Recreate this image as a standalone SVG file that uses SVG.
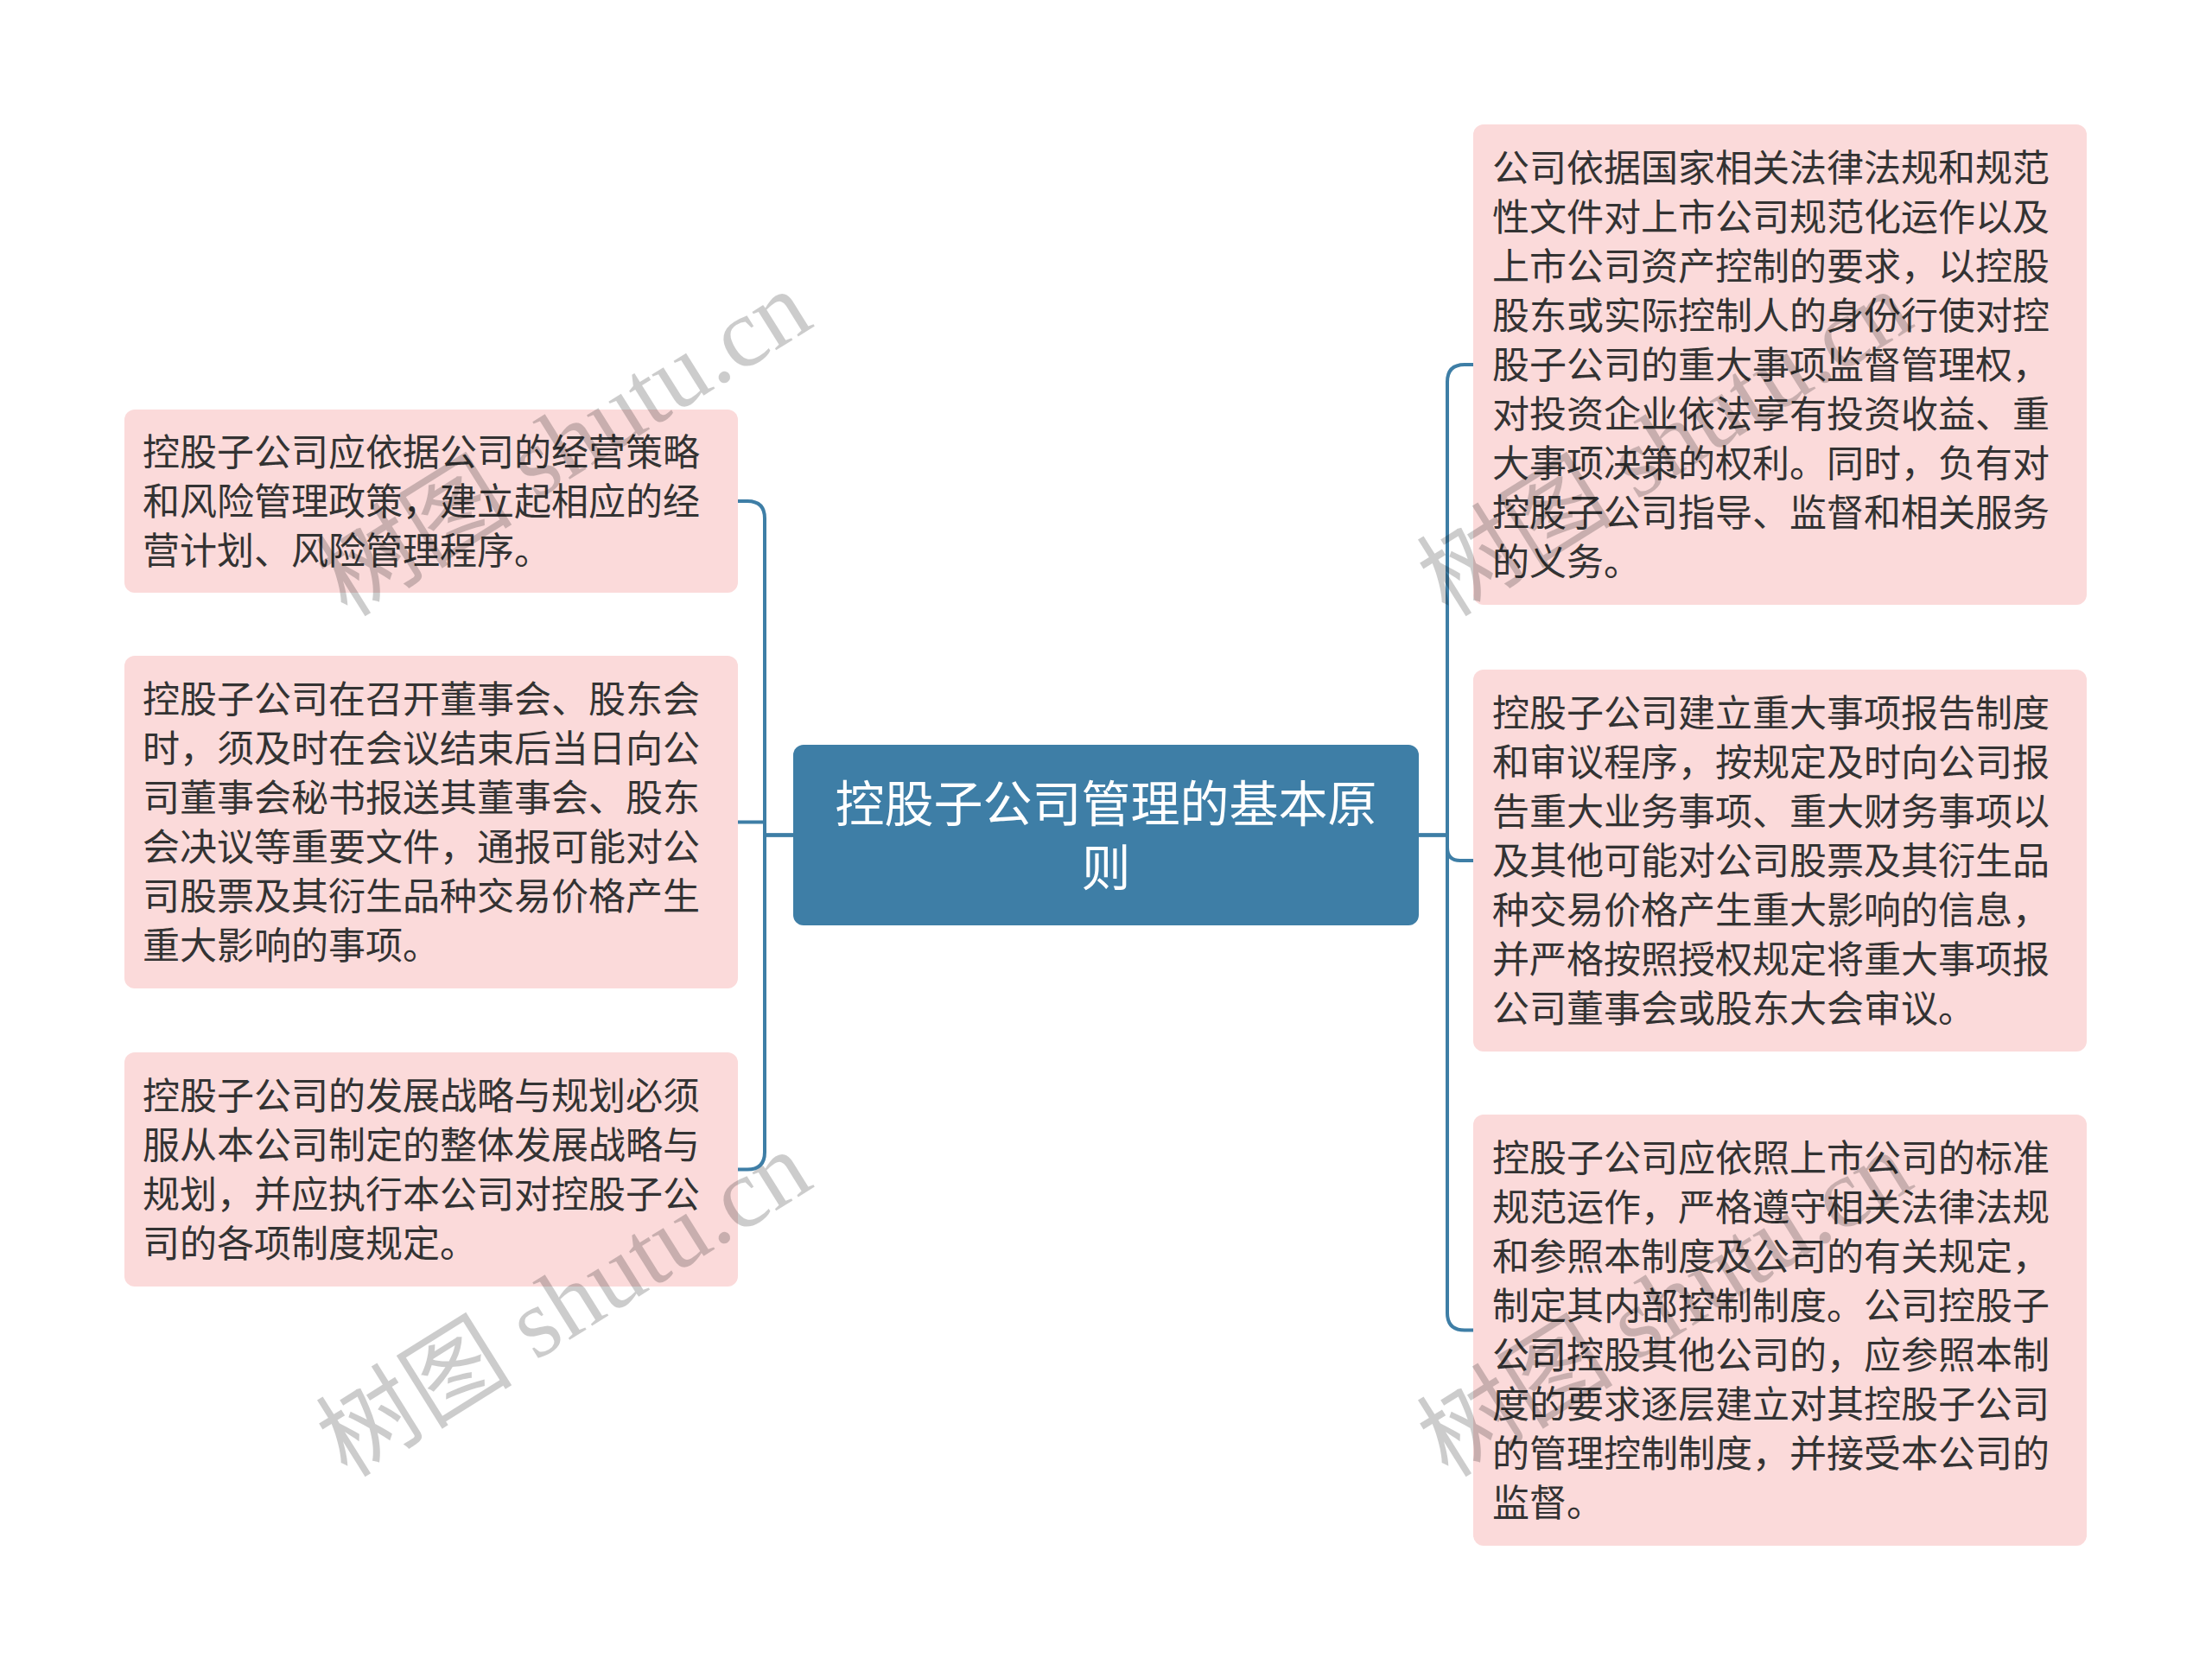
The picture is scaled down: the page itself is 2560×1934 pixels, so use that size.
<svg xmlns="http://www.w3.org/2000/svg" width="2560" height="1934" viewBox="0 0 2560 1934">
<style>
.box{fill:#fbdada;}
.root{fill:#3e7ea6;}
.t{font-family:"Noto Sans CJK SC","Noto Sans",sans-serif;font-size:43px;fill:#333333;}
.rt{font-family:"Noto Sans CJK SC","Noto Sans",sans-serif;font-size:57px;fill:#ffffff;text-anchor:middle;}
.conn path{fill:none;stroke:#3e7ea6;stroke-width:4;stroke-linejoin:round;stroke-linecap:round;}
.wm{font-family:"Liberation Serif","Noto Sans CJK SC",serif;font-size:114px;fill:#000000;fill-opacity:0.2;text-anchor:middle;}
</style>
<rect width="2560" height="1934" fill="#ffffff"/>
<g id="connectors" class="conn">
<path d="M918,966.5 H885 V600 Q885,580 865,580 H854"/>
<path d="M918,966.5 H885 V951.5 H854"/>
<path d="M918,966.5 H885 V1333.5 Q885,1353.5 865,1353.5 H854"/>
<path d="M1642.5,966.5 H1675 V442 Q1675,422 1695,422 H1705"/>
<path d="M1642.5,966.5 H1675 V981 Q1675,996 1690,996 H1705"/>
<path d="M1642.5,966.5 H1675 V1519.5 Q1675,1539.5 1695,1539.5 H1705"/>
</g>
<g id="root">
<rect class="root" x="918" y="862" width="724" height="209" rx="12"/>
<text class="rt"><tspan x="1280" y="951">控股子公司管理的基本原</tspan><tspan x="1280" y="1025">则</tspan></text>
</g>
<g id="L1">
<rect class="box" x="144" y="474" width="710" height="212" rx="12"/>
<text class="t"><tspan x="165" y="539">控股子公司应依据公司的经营策略</tspan><tspan x="165" y="596">和风险管理政策，建立起相应的经</tspan><tspan x="165" y="653">营计划、风险管理程序。</tspan></text>
</g>
<g id="L2">
<rect class="box" x="144" y="759" width="710" height="385" rx="12"/>
<text class="t"><tspan x="165" y="825">控股子公司在召开董事会、股东会</tspan><tspan x="165" y="882">时，须及时在会议结束后当日向公</tspan><tspan x="165" y="939">司董事会秘书报送其董事会、股东</tspan><tspan x="165" y="996">会决议等重要文件，通报可能对公</tspan><tspan x="165" y="1053">司股票及其衍生品种交易价格产生</tspan><tspan x="165" y="1110">重大影响的事项。</tspan></text>
</g>
<g id="L3">
<rect class="box" x="144" y="1218" width="710" height="271" rx="12"/>
<text class="t"><tspan x="165" y="1284">控股子公司的发展战略与规划必须</tspan><tspan x="165" y="1341">服从本公司制定的整体发展战略与</tspan><tspan x="165" y="1398">规划，并应执行本公司对控股子公</tspan><tspan x="165" y="1455">司的各项制度规定。</tspan></text>
</g>
<g id="R1">
<rect class="box" x="1705" y="144" width="710" height="556" rx="12"/>
<text class="t"><tspan x="1727" y="210">公司依据国家相关法律法规和规范</tspan><tspan x="1727" y="267">性文件对上市公司规范化运作以及</tspan><tspan x="1727" y="324">上市公司资产控制的要求，以控股</tspan><tspan x="1727" y="381">股东或实际控制人的身份行使对控</tspan><tspan x="1727" y="438">股子公司的重大事项监督管理权，</tspan><tspan x="1727" y="495">对投资企业依法享有投资收益、重</tspan><tspan x="1727" y="552">大事项决策的权利。同时，负有对</tspan><tspan x="1727" y="609">控股子公司指导、监督和相关服务</tspan><tspan x="1727" y="666">的义务。</tspan></text>
</g>
<g id="R2">
<rect class="box" x="1705" y="775" width="710" height="442" rx="12"/>
<text class="t"><tspan x="1727" y="841">控股子公司建立重大事项报告制度</tspan><tspan x="1727" y="898">和审议程序，按规定及时向公司报</tspan><tspan x="1727" y="955">告重大业务事项、重大财务事项以</tspan><tspan x="1727" y="1012">及其他可能对公司股票及其衍生品</tspan><tspan x="1727" y="1069">种交易价格产生重大影响的信息，</tspan><tspan x="1727" y="1126">并严格按照授权规定将重大事项报</tspan><tspan x="1727" y="1183">公司董事会或股东大会审议。</tspan></text>
</g>
<g id="R3">
<rect class="box" x="1705" y="1290" width="710" height="499" rx="12"/>
<text class="t"><tspan x="1727" y="1356">控股子公司应依照上市公司的标准</tspan><tspan x="1727" y="1413">规范运作，严格遵守相关法律法规</tspan><tspan x="1727" y="1470">和参照本制度及公司的有关规定，</tspan><tspan x="1727" y="1527">制定其内部控制制度。公司控股子</tspan><tspan x="1727" y="1584">公司控股其他公司的，应参照本制</tspan><tspan x="1727" y="1641">度的要求逐层建立对其控股子公司</tspan><tspan x="1727" y="1698">的管理控制制度，并接受本公司的</tspan><tspan x="1727" y="1755">监督。</tspan></text>
</g>
<g id="watermarks">
<text class="wm" transform="translate(652,512) rotate(-32)" x="0" y="40">树图 shutu.cn</text>
<text class="wm" transform="translate(652,1508) rotate(-32)" x="0" y="40">树图 shutu.cn</text>
<text class="wm" transform="translate(1926,512) rotate(-32)" x="0" y="40">树图 shutu.cn</text>
<text class="wm" transform="translate(1926,1508) rotate(-32)" x="0" y="40">树图 shutu.cn</text>
</g>
</svg>
